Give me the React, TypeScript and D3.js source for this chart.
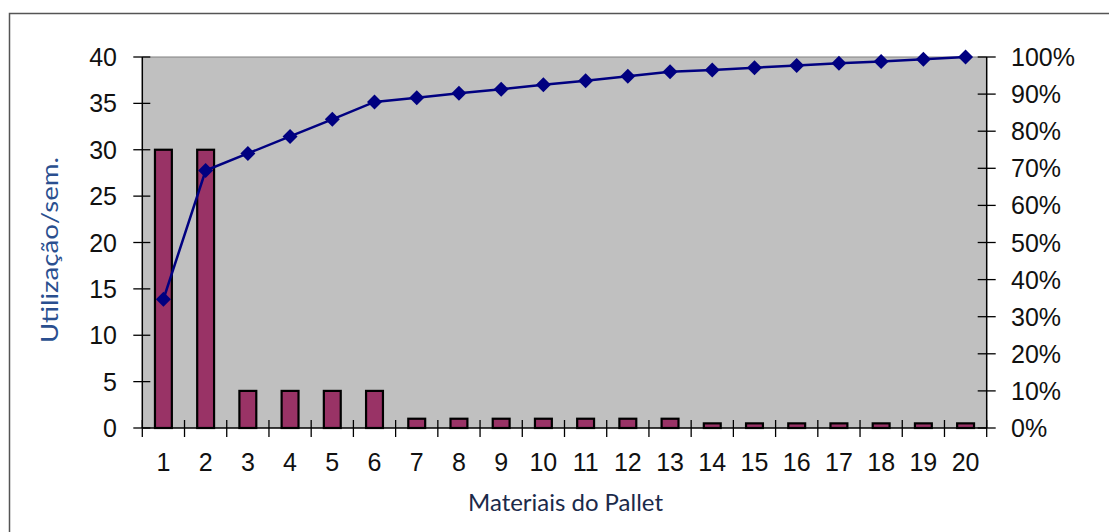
import React from "react";
import * as d3 from "d3";

const categories = ["1","2","3","4","5","6","7","8","9","10","11","12","13","14","15","16","17","18","19","20"];
const usage = [30, 30, 4, 4, 4, 4, 1, 1, 1, 1, 1, 1, 1, 0.5, 0.5, 0.5, 0.5, 0.5, 0.5, 0.5];
const cumulativePct = [34.7, 69.4, 74.0, 78.6, 83.2, 87.9, 89.0, 90.2, 91.3, 92.5, 93.6, 94.8, 96.0, 96.5, 97.1, 97.7, 98.3, 98.8, 99.4, 100];
const leftTicks = [0, 5, 10, 15, 20, 25, 30, 35, 40];
const rightTicks = [0, 10, 20, 30, 40, 50, 60, 70, 80, 90, 100];
const yTitle = "Utilização/sem.";
const xTitle = "Materiais do Pallet";

const W = 1109, H = 532;
const plot = { left: 142.3, right: 986.7, top: 57, bottom: 428 };

export default function App() {
  const x = d3.scaleBand<string>().domain(categories).range([plot.left, plot.right]).paddingInner(0).paddingOuter(0);
  const yL = d3.scaleLinear().domain([0, 40]).range([plot.bottom, plot.top]);
  const yR = d3.scaleLinear().domain([0, 100]).range([plot.bottom, plot.top]);
  const bw = x.bandwidth() * 0.4;
  const cx = (c: string) => (x(c) as number) + x.bandwidth() / 2;
  const line = d3.line<number>().x((_, i) => cx(categories[i])).y(d => yR(d));
  const numFont = "'Liberation Sans', Arial, sans-serif";
  const titleFont = "Lato, 'Open Sans', sans-serif";
  const boundaries = d3.range(categories.length + 1).map(i => plot.left + i * x.bandwidth());

  return (
    <svg width={W} height={H} style={{ position: "absolute", left: 0, top: 0, background: "#fff" }}>
      {/* outer chart border */}
      <path d={`M9.5,${H + 2} V13.5 H${W + 2}`} fill="none" stroke="#555" strokeWidth={1.5} />
      {/* plot area */}
      <rect x={plot.left} y={plot.top} width={plot.right - plot.left} height={plot.bottom - plot.top} fill="#C0C0C0" />
      <line x1={plot.left} x2={plot.right} y1={plot.top} y2={plot.top} stroke="#808080" strokeWidth={1.2} />
      {/* bars */}
      {usage.map((v, i) => (
        <rect key={i} x={cx(categories[i]) - bw / 2} y={yL(v)} width={bw} height={yL(0) - yL(v)}
          fill="#993366" stroke="#000" strokeWidth={2.2} />
      ))}
      {/* axes lines */}
      <line x1={plot.left} x2={plot.left} y1={plot.top} y2={plot.bottom} stroke="#000" strokeWidth={1.5} />
      <line x1={plot.right} x2={plot.right} y1={plot.top} y2={plot.bottom} stroke="#000" strokeWidth={1.5} />
      <line x1={plot.left} x2={plot.right} y1={plot.bottom} y2={plot.bottom} stroke="#000" strokeWidth={1.5} />
      {/* left ticks */}
      {leftTicks.map(t => (
        <g key={"l" + t}>
          <line x1={plot.left - 9} x2={plot.left + 8} y1={yL(t)} y2={yL(t)} stroke="#000" strokeWidth={1.3} />
          <text x={117} y={yL(t)} dy="0.36em" textAnchor="end" fontFamily={numFont} fontSize={25} fill="#111">{t}</text>
        </g>
      ))}
      {/* right ticks */}
      {rightTicks.map(t => (
        <g key={"r" + t}>
          <line x1={plot.right - 9} x2={plot.right + 9} y1={yR(t)} y2={yR(t)} stroke="#000" strokeWidth={1.3} />
          <text x={1011} y={yR(t)} dy="0.36em" textAnchor="start" fontFamily={numFont} fontSize={25} fill="#111">{t + "%"}</text>
        </g>
      ))}
      {/* x ticks */}
      {boundaries.map((b, i) => (
        <line key={"xt" + i} x1={b} x2={b} y1={plot.bottom - 8} y2={plot.bottom + 9} stroke="#000" strokeWidth={1.3} />
      ))}
      {categories.map(c => (
        <text key={"xl" + c} x={cx(c)} y={471} textAnchor="middle" fontFamily={numFont} fontSize={25} fill="#111">{c}</text>
      ))}
      {/* cumulative line */}
      <path d={line(cumulativePct) || ""} fill="none" stroke="#000080" strokeWidth={2.5} />
      {cumulativePct.map((v, i) => {
        const px = cx(categories[i]), py = yR(v), r = 7.5;
        return <path key={"m" + i} d={`M${px},${py - r} L${px + r},${py} L${px},${py + r} L${px - r},${py} Z`} fill="#000080" />;
      })}
      {/* titles */}
      <text x={565.5} y={511} textAnchor="middle" fontFamily={titleFont} fontSize={23} textLength={195} lengthAdjust="spacingAndGlyphs" fill="#1B2A4A">{xTitle}</text>
      <text transform={`translate(58,250) rotate(-90)`} textAnchor="middle" fontFamily={titleFont} fontSize={23} textLength={186} lengthAdjust="spacingAndGlyphs" fill="#2A4F8F">{yTitle}</text>
    </svg>
  );
}
